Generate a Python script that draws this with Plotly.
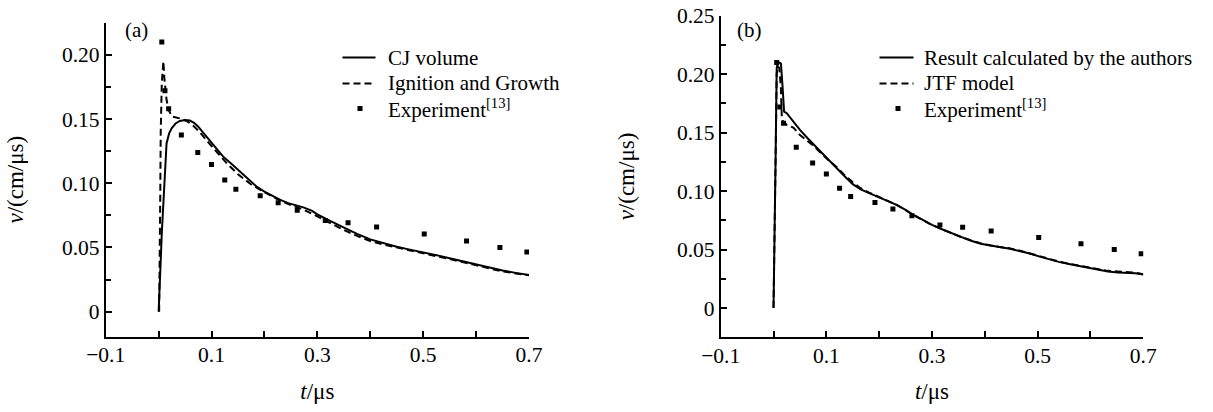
import plotly.graph_objects as go

# ---------------- data ----------------
# Experiment [13] (same data in both panels)
t_exp = [0.006, 0.012, 0.019, 0.043, 0.074, 0.100, 0.125, 0.146, 0.192, 0.226,
         0.262, 0.315, 0.358, 0.412, 0.502, 0.582, 0.645, 0.696]
v_exp = [0.210, 0.172, 0.158, 0.1375, 0.124, 0.1146, 0.1025, 0.0953, 0.0902, 0.0848,
         0.079, 0.071, 0.0692, 0.066, 0.0604, 0.055, 0.050, 0.0465]

# Panel (a): CJ volume (solid)
t_cj = [0.000, 0.002, 0.004, 0.006, 0.009, 0.012, 0.015, 0.020, 0.025, 0.032, 0.040,
        0.050, 0.059, 0.067, 0.075, 0.083, 0.091, 0.100, 0.110, 0.122, 0.138, 0.154,
        0.170, 0.185, 0.200, 0.215, 0.230, 0.245, 0.260, 0.275, 0.290, 0.300, 0.325,
        0.350, 0.375, 0.400, 0.425, 0.450, 0.475, 0.500, 0.525, 0.550, 0.575, 0.600,
        0.625, 0.650, 0.675, 0.700]
v_cj = [0.000, 0.015, 0.040, 0.061, 0.087, 0.112, 0.131, 0.139, 0.143, 0.1465, 0.1485,
        0.1493, 0.1488, 0.147, 0.144, 0.140, 0.136, 0.132, 0.127, 0.1207, 0.115, 0.109,
        0.103, 0.0974, 0.0935, 0.0900, 0.0870, 0.0845, 0.0828, 0.0810, 0.0785, 0.0758, 0.0705,
        0.0652, 0.0605, 0.0563, 0.0532, 0.0505, 0.0483, 0.0463, 0.0440, 0.0416, 0.0392, 0.0366,
        0.0342, 0.0320, 0.0302, 0.0286]

# Panel (a): Ignition and Growth (dashed)
t_ig = [0.001, 0.002, 0.003, 0.004, 0.006, 0.009, 0.011, 0.015, 0.019, 0.025, 0.035,
        0.045, 0.055, 0.065, 0.075, 0.085, 0.100, 0.115, 0.130, 0.150, 0.175, 0.200,
        0.225, 0.250, 0.275, 0.300, 0.325, 0.350, 0.375, 0.400, 0.425, 0.450, 0.475,
        0.500, 0.525, 0.550, 0.575, 0.600, 0.625, 0.650, 0.675, 0.700]
v_ig = [0.000, 0.030, 0.085, 0.140, 0.178, 0.195, 0.181, 0.165, 0.157, 0.152, 0.151,
        0.150, 0.148, 0.145, 0.141, 0.136, 0.129, 0.122, 0.115, 0.107, 0.099, 0.0930,
        0.0875, 0.0830, 0.0792, 0.0742, 0.0688, 0.0636, 0.0590, 0.0550, 0.0522, 0.0498, 0.0475,
        0.0455, 0.0432, 0.0410, 0.0385, 0.0358, 0.0335, 0.0313, 0.0298, 0.0284]

# Panel (b): Result calculated by the authors (solid)
t_au = [0.000, 0.002, 0.004, 0.006, 0.008, 0.011, 0.014, 0.017, 0.020, 0.025, 0.035,
        0.050, 0.065, 0.082, 0.095, 0.107, 0.120, 0.135, 0.150, 0.165, 0.180, 0.196,
        0.215, 0.233, 0.250, 0.263, 0.280, 0.300, 0.320, 0.337, 0.355, 0.374, 0.392,
        0.411, 0.430, 0.448, 0.467, 0.485, 0.504, 0.522, 0.540, 0.559, 0.578, 0.596,
        0.615, 0.633, 0.652, 0.670, 0.685, 0.700]
v_au = [0.000, 0.050, 0.130, 0.205, 0.210, 0.210, 0.209, 0.190, 0.168, 0.1666, 0.161,
        0.1523, 0.145, 0.137, 0.131, 0.125, 0.119, 0.1125, 0.106, 0.1015, 0.0985, 0.0955,
        0.0920, 0.0883, 0.0840, 0.0800, 0.0760, 0.0712, 0.0672, 0.0640, 0.0605, 0.0575, 0.0550,
        0.0532, 0.0520, 0.0507, 0.0487, 0.0466, 0.0440, 0.0415, 0.0395, 0.0377, 0.0360, 0.0344,
        0.0326, 0.0313, 0.0305, 0.0302, 0.0297, 0.0287]

# Panel (b): JTF model (dashed)
t_jtf = [0.000, 0.002, 0.004, 0.006, 0.008, 0.011, 0.014, 0.0155, 0.0175, 0.025, 0.0375,
         0.050, 0.060, 0.075, 0.090, 0.105, 0.120, 0.135, 0.150, 0.165, 0.180, 0.196,
         0.215, 0.233, 0.250, 0.263, 0.280, 0.300, 0.320, 0.337, 0.355, 0.374, 0.392,
         0.411, 0.430, 0.448, 0.467, 0.485, 0.504, 0.522, 0.540, 0.559, 0.578, 0.596,
         0.615, 0.633, 0.652, 0.670, 0.685, 0.700]
v_jtf = [0.000, 0.050, 0.130, 0.200, 0.207, 0.205, 0.188, 0.165, 0.160, 0.1566, 0.1543,
         0.1480, 0.1445, 0.139, 0.1325, 0.126, 0.1205, 0.1135, 0.1075, 0.1025, 0.0990, 0.0955,
         0.0918, 0.0882, 0.0838, 0.0798, 0.0758, 0.0710, 0.0670, 0.0640, 0.0607, 0.0578, 0.0554,
         0.0535, 0.0522, 0.0510, 0.0490, 0.0468, 0.0443, 0.0418, 0.0398, 0.0380, 0.0363, 0.0348,
         0.0331, 0.0318, 0.0312, 0.0307, 0.0302, 0.0290]

# tick labels
x_tickvals = [-0.1, 0.1, 0.3, 0.5, 0.7]
x_ticktext = ["\u22120.1", "0.1", "0.3", "0.5", "0.7"]
x_minorvals = [0.0, 0.2, 0.4, 0.6]
ya_tickvals = [0, 0.05, 0.10, 0.15, 0.20]
ya_ticktext = ["0", "0.05", "0.10", "0.15", "0.20"]
ya_minorvals = [0.025, 0.075, 0.125, 0.175, 0.225]
yb_tickvals = [0, 0.05, 0.10, 0.15, 0.20, 0.25]
yb_ticktext = ["0", "0.05", "0.10", "0.15", "0.20", "0.25"]
yb_minorvals = [0.025, 0.075, 0.125, 0.175, 0.225]

legend_a = ["CJ volume", "Ignition and Growth", "Experiment<sup>[13]</sup>"]
legend_b = ["Result calculated by the authors", "JTF model", "Experiment<sup>[13]</sup>"]

# ---------------- figure ----------------
FONT = "Liberation Serif"
W, H = 1213, 412
LW = 2.0
DASH = "7px,4px"

fig = go.Figure()

def add_panel(xa, ya, ts, vs, td, vd):
    fig.add_trace(go.Scatter(x=ts, y=vs, mode="lines", xaxis=xa, yaxis=ya,
                             line=dict(color="black", width=LW), showlegend=False))
    fig.add_trace(go.Scatter(x=td, y=vd, mode="lines", xaxis=xa, yaxis=ya,
                             line=dict(color="black", width=LW, dash=DASH), showlegend=False))
    fig.add_trace(go.Scatter(x=t_exp, y=v_exp, mode="markers", xaxis=xa, yaxis=ya,
                             marker=dict(symbol="square", size=5, color="black"),
                             showlegend=False))

add_panel("x", "y", t_cj, v_cj, t_ig, v_ig)
add_panel("x2", "y2", t_au, v_au, t_jtf, v_jtf)

def px(x):
    return x / W

def py(y):
    return 1 - y / H

common_axis = dict(showline=True, linecolor="black", linewidth=1.8, showgrid=False,
                   zeroline=False, ticks="inside", ticklen=6, tickwidth=1.5, automargin=False,
                   tickcolor="black", tickfont=dict(family=FONT, size=21.5, color="black"))

xaxis_common = dict(common_axis, range=[-0.1, 0.7], tickmode="array",
                    tickvals=x_tickvals, ticktext=x_ticktext, ticklabelstandoff=-2,
                    minor=dict(tickmode="array", tickvals=x_minorvals, ticks="inside",
                               ticklen=6, tickwidth=1.5, tickcolor="black"),
                    title=dict(text="<i>t</i>/\u03bcs", font=dict(family=FONT, size=23, color="black"),
                               standoff=16))

fig.update_layout(
    template="none",
    width=W, height=H,
    margin=dict(l=0, r=0, t=0, b=0),
    paper_bgcolor="white", plot_bgcolor="white",
    font=dict(family=FONT, color="black"),
    showlegend=False,
    xaxis=dict(xaxis_common, domain=[px(105.7), px(529)], anchor="y"),
    yaxis=dict(common_axis, domain=[py(336.7), py(22.7)], anchor="x",
               range=[-0.0195, 0.225], tickmode="array",
               tickvals=ya_tickvals, ticktext=ya_ticktext,
               minor=dict(tickmode="array", tickvals=ya_minorvals, ticks="inside",
                          ticklen=5, tickwidth=1.5, tickcolor="black"),
               title=dict(text="<i>v</i>/(cm/\u03bcs)", font=dict(family=FONT, size=23, color="black"),
                          standoff=32)),
    xaxis2=dict(xaxis_common, domain=[px(720.7), px(1143.3)], anchor="y2"),
    yaxis2=dict(common_axis, domain=[py(337.3), py(15.7)], anchor="x2",
                range=[-0.025, 0.25], tickmode="array",
                tickvals=yb_tickvals, ticktext=yb_ticktext,
                minor=dict(tickmode="array", tickvals=yb_minorvals, ticks="inside",
                           ticklen=5, tickwidth=1.5, tickcolor="black"),
                title=dict(text="<i>v</i>/(cm/\u03bcs)", font=dict(family=FONT, size=23, color="black"),
                           standoff=36)),
)

# panel labels
for label, x0 in (("(a)", 123), ("(b)", 735)):
    fig.add_annotation(text=label, xref="paper", yref="paper", x=px(x0), y=py(30),
                       xanchor="left", yanchor="middle", showarrow=False,
                       font=dict(family=FONT, size=21, color="black"))

# custom legends
def add_legend(names, line_x0, line_x1, marker_x, text_x, rows):
    fig.add_shape(type="line", xref="paper", yref="paper", x0=px(line_x0), x1=px(line_x1),
                  y0=py(rows[0]), y1=py(rows[0]), line=dict(color="black", width=LW))
    fig.add_shape(type="line", xref="paper", yref="paper", x0=px(line_x0), x1=px(line_x1),
                  y0=py(rows[1]), y1=py(rows[1]), line=dict(color="black", width=LW, dash=DASH))
    fig.add_shape(type="rect", xref="paper", yref="paper", x0=px(marker_x - 2.5), x1=px(marker_x + 2.5),
                  y0=py(rows[2] + 2.5), y1=py(rows[2] - 2.5), fillcolor="black", line=dict(width=0))
    for name, r in zip(names, rows):
        fig.add_annotation(text=name, xref="paper", yref="paper", x=px(text_x), y=py(r),
                           xanchor="left", yanchor="middle", showarrow=False,
                           font=dict(family=FONT, size=21, color="black"))

add_legend(legend_a, 342.5, 375.5, 360, 386, [57.5, 83.5, 108.5])
add_legend(legend_b, 879.5, 913.5, 898, 922, [57.5, 83.5, 108.5])

fig.write_html("out.html")
